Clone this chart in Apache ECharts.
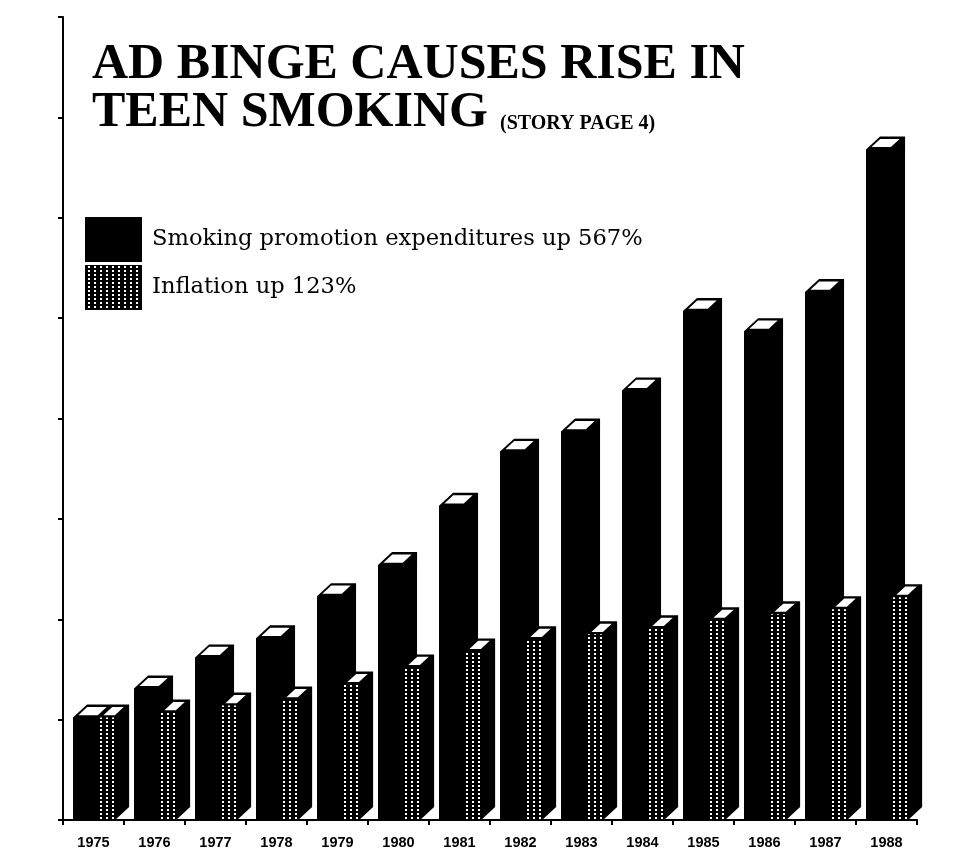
<!DOCTYPE html>
<html>
<head>
<meta charset="utf-8">
<script src="https://cdn.jsdelivr.net/npm/echarts/dist/echarts.min.js"></script>
<style>
html,body{margin:0;padding:0;background:#ffffff;}
#chart{width:961px;height:860px;}
</style>
</head>
<body>
<div id="chart"></div>
<script>
// ---- data (index, 1975 = 100) ----
const years = ['1975','1976','1977','1978','1979','1980','1981','1982','1983','1984','1985','1986','1987','1988'];
const promotion = [102,131,162,181,223,254,313,367,387,428,507,487,526,668];
const inflation = [102,107,114,120,135,152,168,180,185,191,199,205,210,222];
const seriesNames = ['Smoking promotion expenditures up 567%', 'Inflation up 123%'];
const titleLines = ['AD BINGE CAUSES RISE IN', 'TEEN SMOKING'];
const subTitle = '(STORY PAGE 4)';
const yMax = 800;
const yInterval = 100;

// dotted fill pattern (white dots on black)
const dotCanvas = document.createElement('canvas');
dotCanvas.width = 6; dotCanvas.height = 4;
(function(){
  const c = dotCanvas.getContext('2d');
  c.fillStyle = '#000'; c.fillRect(0,0,6,4);
  c.fillStyle = '#fff'; c.fillRect(2,1,2,2);
})();
function dotPattern(x, y){
  return {image: dotCanvas, repeat: 'repeat', x: x || 0, y: y || 0};
}

function makeRender(kind){
  return function(params, api){
    const idx = api.value(0);
    const val = api.value(1);
    const top = api.coord([idx, val]);
    const base = api.coord([idx, 0]);
    const bw = api.size([1, 0])[0];
    const x0 = top[0] - bw / 2;
    const dx = bw * 0.23, dy = bw * 0.213;
    let xl, w;
    if (kind === 0) { xl = x0 + bw * 0.164; w = bw * 0.41; }
    else { xl = x0 + bw * 0.164 + bw * 0.41; w = bw * 0.28; }
    const xr = xl + w, yT = top[1], yB = base[1];
    const children = [];
    children.push({
      type: 'polygon',
      shape: {points: [[xl,yB],[xl,yT],[xl+dx,yT-dy],[xr+dx,yT-dy],[xr+dx,yB-dy],[xr,yB]]},
      style: {fill: '#000'}
    });
    if (kind === 1) {
      children.push({
        type: 'rect',
        shape: {x: xl, y: yT, width: w, height: yB - yT},
        style: {fill: dotPattern(Math.round(xl), 0)}
      });
    }
    const s0 = 2.8 / w, t0 = 2.4 / dy;
    const P = (s, t) => [xl + s * w + t * dx, yT - t * dy];
    children.push({
      type: 'polygon',
      shape: {points: [P(s0,t0), P(1-s0,t0), P(1-s0,1-t0), P(s0,1-t0)]},
      style: {fill: '#fff'}
    });
    return {type: 'group', children: children};
  };
}

const chart = echarts.init(document.getElementById('chart'), null, {renderer: 'canvas'});
chart.setOption({
  animation: false,
  backgroundColor: '#ffffff',
  title: [{
    text: titleLines.join('\n'),
    left: 92, top: 41, padding: 0,
    textStyle: {fontFamily: 'Liberation Serif', fontWeight: 'bold', fontSize: 50, lineHeight: 48, color: '#000'}
  }, {
    text: subTitle,
    left: 500, top: 114, padding: 0,
    textStyle: {fontFamily: 'Liberation Serif', fontWeight: 'bold', fontSize: 20, lineHeight: 20, color: '#000'}
  }],
  legend: {
    orient: 'vertical', left: 85, top: 217, padding: 0,
    itemWidth: 57, itemHeight: 45, itemGap: 3, icon: 'rect',
    selectedMode: false,
    data: [
      {name: seriesNames[0], itemStyle: {color: '#000'}},
      {name: seriesNames[1], itemStyle: {color: dotPattern(85, 0)}}
    ],
    textStyle: {fontFamily: 'DejaVu Serif', fontSize: 22.6, color: '#000', padding: [0, 0, 10, 5]}
  },
  grid: {left: 63, right: 44, top: 17, bottom: 40, containLabel: false},
  xAxis: {
    type: 'category', data: years, boundaryGap: true,
    axisLine: {show: true, lineStyle: {color: '#000', width: 2}},
    axisTick: {show: true, length: 5, lineStyle: {color: '#000', width: 2}},
    axisLabel: {color: '#000', fontFamily: 'Liberation Sans', fontWeight: 'bold', fontSize: 14.5, margin: 15},
    splitLine: {show: false}
  },
  yAxis: {
    type: 'value', min: 0, max: yMax, interval: yInterval,
    axisLine: {show: true, lineStyle: {color: '#000', width: 2}},
    axisTick: {show: true, length: 5, lineStyle: {color: '#000', width: 2}},
    axisLabel: {show: false},
    splitLine: {show: false}
  },
  series: [{
    name: seriesNames[0], type: 'custom',
    itemStyle: {color: '#000'},
    encode: {x: 0, y: 1},
    renderItem: makeRender(0),
    data: years.map((y, i) => [i, promotion[i]])
  }, {
    name: seriesNames[1], type: 'custom',
    itemStyle: {color: dotPattern(85, 0)},
    encode: {x: 0, y: 1},
    renderItem: makeRender(1),
    data: years.map((y, i) => [i, inflation[i]])
  }]
});
</script>
</body>
</html>
